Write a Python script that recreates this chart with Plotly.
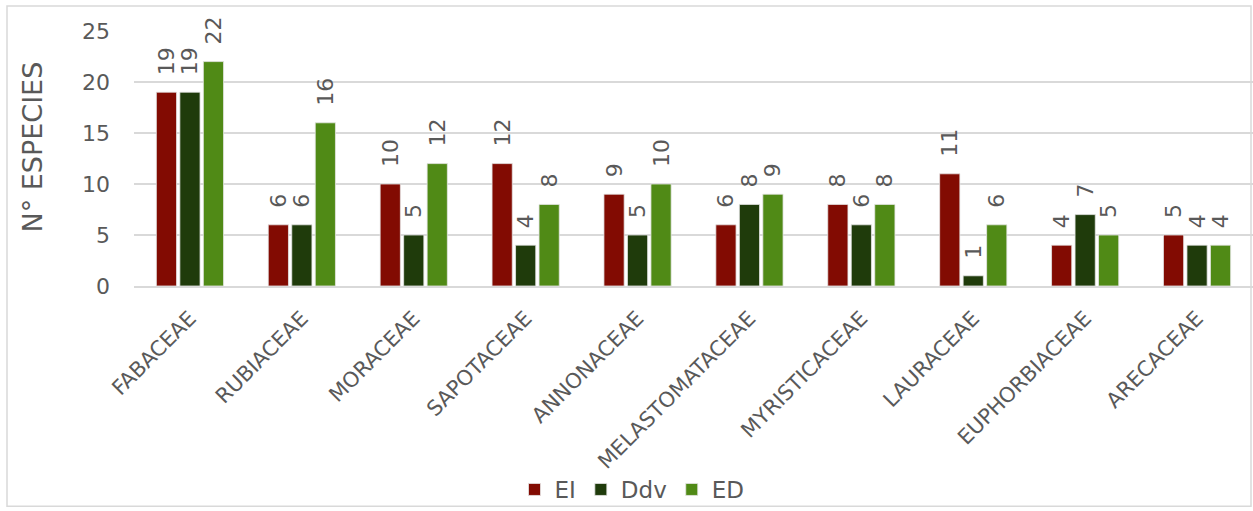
import plotly.graph_objects as go

familias = ["FABACEAE", "RUBIACEAE", "MORACEAE", "SAPOTACEAE", "ANNONACEAE",
            "MELASTOMATACEAE", "MYRISTICACEAE", "LAURACEAE", "EUPHORBIACEAE", "ARECACEAE"]
ei = [19, 6, 10, 12, 9, 6, 8, 11, 4, 5]
ddv = [19, 6, 5, 4, 5, 8, 6, 1, 7, 4]
ed = [22, 16, 12, 8, 10, 9, 8, 6, 5, 4]

series = [("EI", ei, "#820B02"), ("Ddv", ddv, "#1F3B0B"), ("ED", ed, "#508A16")]
gris = "#595959"
fuente = "DejaVu Sans"
# leading non-breaking spaces lift the rotated value labels off the bar tops
relleno = "\u00a0\u00a0"

fig = go.Figure()
for nombre, valores, color in series:
    fig.add_trace(go.Bar(
        name=nombre, x=familias, y=valores,
        marker=dict(color=color, line=dict(color="#E6E6E6", width=0.8)),
        text=[relleno + str(v) for v in valores], textposition="outside", textangle=-90,
        textfont=dict(family=fuente, size=22, color=gris),
        constraintext="none", cliponaxis=False,
    ))

L, T, B = 134, 31, 224
W, H = 1253, 511
pw, ph = W - L, H - T - B

fig.update_layout(
    width=W, height=H,
    margin=dict(l=L, r=0, t=T, b=B, pad=0),
    paper_bgcolor="white", plot_bgcolor="white",
    barmode="group", bargap=0.37, bargroupgap=0.14,
    font=dict(family=fuente, color=gris),
    showlegend=True,
    legend=dict(orientation="h", x=(632 - L) / pw, xanchor="center",
                y=(T + ph - 491) / ph, yanchor="middle",
                bgcolor="rgba(0,0,0,0)",
                font=dict(family=fuente, size=23, color=gris),
                itemwidth=30, tracegroupgap=0),
    xaxis=dict(tickangle=-45, tickfont=dict(family=fuente, size=21, color=gris),
               showline=True, linecolor="#D9D9D9", linewidth=1.5, ticks="",
               ticklabelstandoff=10),
    yaxis=dict(range=[0, 25], dtick=5, showgrid=True, gridcolor="#D9D9D9", gridwidth=1.5,
               zeroline=False, tickfont=dict(family=fuente, size=22, color=gris),
               ticks="", ticklabelstandoff=23),
    annotations=[dict(text="N° ESPECIES", textangle=-90, showarrow=False,
                      xref="paper", yref="paper",
                      x=(33 - L) / pw, y=(T + ph - 148) / ph,
                      xanchor="center", yanchor="middle",
                      font=dict(family=fuente, size=27, color=gris))],
    shapes=[dict(type="rect", xref="paper", yref="paper",
                 x0=(7 - L) / pw, x1=(1251 - L) / pw,
                 y0=(T + ph - 508) / ph, y1=(T + ph - 6) / ph,
                 line=dict(color="#D9D9D9", width=1.5), fillcolor="rgba(0,0,0,0)", layer="below")],
)

fig.write_html("out.html")
